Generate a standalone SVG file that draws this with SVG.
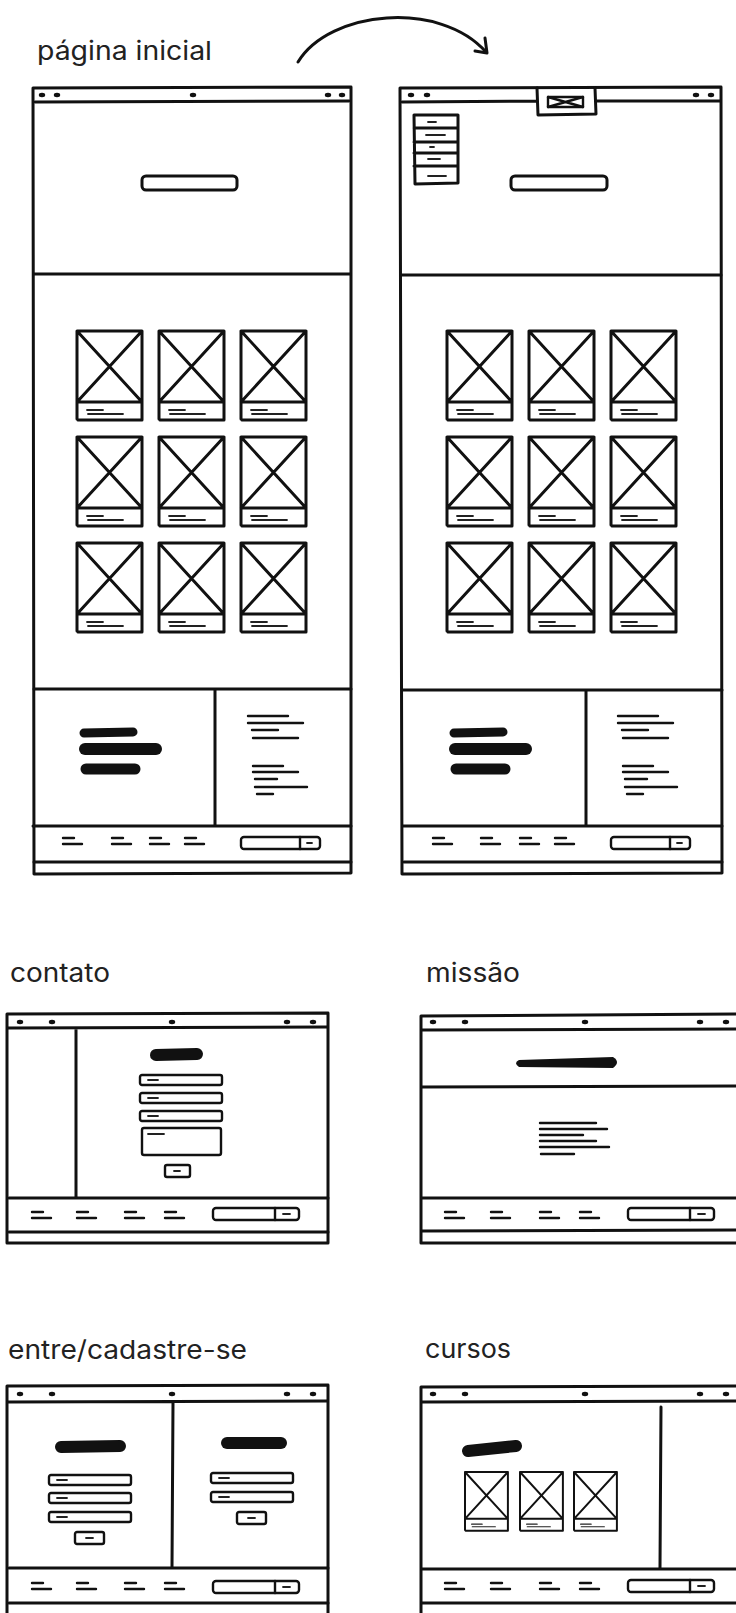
<svg xmlns="http://www.w3.org/2000/svg" xmlns:xlink="http://www.w3.org/1999/xlink" width="736" height="1613" viewBox="0 0 736 1613">
<style>
.f{fill:none;stroke:#111;stroke-width:3;stroke-linecap:round;stroke-linejoin:round}
.m{fill:none;stroke:#111;stroke-width:2.4;stroke-linecap:round;stroke-linejoin:round}
.s{fill:none;stroke:#222;stroke-width:1.8;stroke-linecap:round}
.b{fill:none;stroke:#111;stroke-linecap:round}
.dot{fill:#111}
.ttl{font-family:Inter,"Liberation Sans",sans-serif;font-size:26px;fill:#222}
</style>
<defs>
<g id="card">
<path class="f" d="M0,0 H65 V89 M0,0 V88 M0,71 H65 M0,0 L65,71 M65,0 L0,71 M1,89 H64"/>
<path class="s" d="M10,79 H26 M11,83 H46"/>
</g>
<g id="dash">
<path class="m" d="M0,0 H11 M0,6 H19"/>
</g>
<g id="search">
<rect class="m" x="0" y="0" width="79" height="12" rx="3"/>
<path class="m" d="M59,0 V12"/>
<path class="s" d="M66,6 H71"/>
</g>
<g id="searchS">
<rect class="m" x="0" y="0" width="86" height="12" rx="3"/>
<path class="m" d="M62,0 V12"/>
<path class="s" d="M70,6 H77"/>
</g>
<g id="input">
<rect class="m" x="0" y="0" width="82" height="10" rx="2"/>
<path class="s" d="M8,5 H18"/>
</g>
<g id="btn">
<rect class="m" x="0" y="0" width="29" height="12" rx="2"/>
<path class="s" d="M11,6 H18"/>
</g>
<g id="dots5">
<ellipse class="dot" cx="0" cy="0" rx="3.2" ry="2.2"/>
<ellipse class="dot" cx="32" cy="0" rx="3.2" ry="2.2"/>
<ellipse class="dot" cx="152" cy="0" rx="3.2" ry="2.2"/>
<ellipse class="dot" cx="267" cy="0" rx="3.2" ry="2.2"/>
<ellipse class="dot" cx="293" cy="0" rx="3.2" ry="2.2"/>
</g>
</defs>
<rect x="0" y="0" width="736" height="1613" fill="#fff"/>

<g id="titles">
<text class="ttl" x="37" y="60" textLength="175" lengthAdjust="spacingAndGlyphs">página inicial</text>
<text class="ttl" x="10" y="982" textLength="100" lengthAdjust="spacingAndGlyphs">contato</text>
<text class="ttl" x="426" y="982" textLength="94" lengthAdjust="spacingAndGlyphs">missão</text>
<text class="ttl" x="8" y="1359" textLength="239" lengthAdjust="spacingAndGlyphs">entre/cadastre-se</text>
<text class="ttl" x="425" y="1358" textLength="86" lengthAdjust="spacingAndGlyphs">cursos</text>
</g>

<g id="connectors">
<path class="f" d="M298,62 C330,10 440,0 486,52"/>
<path class="f" d="M475,51 L487,53 L485,38"/>
</g>

<g id="home">
<path class="f" d="M33,88 L351,87 L351,873 L34,874 Z"/>
<path class="f" d="M35,102 L349,101 M34,274 L350,274 M34,689 L351,689 M215,689 L215,826 M33,826 L351,826 M34,862 L351,862"/>
<ellipse class="dot" cx="42" cy="95" rx="3.2" ry="2.2"/>
<ellipse class="dot" cx="57" cy="95" rx="3.2" ry="2.2"/>
<ellipse class="dot" cx="193" cy="95" rx="3.2" ry="2.2"/>
<ellipse class="dot" cx="328" cy="95" rx="3.2" ry="2.2"/>
<ellipse class="dot" cx="342" cy="95" rx="3.2" ry="2.2"/>
<rect class="f" x="142" y="176" width="95" height="14" rx="4"/>
<use href="#card" x="77" y="331"/><use href="#card" x="159" y="331"/><use href="#card" x="241" y="331"/>
<use href="#card" x="77" y="437"/><use href="#card" x="159" y="437"/><use href="#card" x="241" y="437"/>
<use href="#card" x="77" y="543"/><use href="#card" x="159" y="543"/><use href="#card" x="241" y="543"/>
<path class="b" stroke-width="9" d="M84,733 L133,732"/>
<path class="b" stroke-width="12" d="M85,749 L156,749"/>
<path class="b" stroke-width="11" d="M86,769 L135,769"/>
<path class="m" d="M248,716 H288 M248,723 H303 M252,730 H278 M253,738 H298 M253,766 H283 M253,772 H298 M255,779 H277 M255,787 H307 M257,794 H273"/>
<use href="#dash" x="63" y="838"/><use href="#dash" x="112" y="838"/><use href="#dash" x="150" y="838"/><use href="#dash" x="185" y="838"/>
<use href="#search" x="241" y="837"/>
</g>

<g id="home-menu">
<path class="f" d="M400,88 L721,87 L722,873 L402,874 Z"/>
<path class="f" d="M402,102 L537,101 M596,101 L720,101 M537,88 L538,115 L596,114 L595,88"/>
<rect class="m" x="548" y="97" width="35" height="10"/>
<path class="m" d="M548,97 L583,107 M583,97 L548,107"/>
<ellipse class="dot" cx="411" cy="95" rx="3.2" ry="2.2"/>
<ellipse class="dot" cx="427" cy="95" rx="3.2" ry="2.2"/>
<ellipse class="dot" cx="696" cy="95" rx="3.2" ry="2.2"/>
<ellipse class="dot" cx="711" cy="95" rx="3.2" ry="2.2"/>
<path class="f" d="M414,115 L458,115 L458,183 L415,184 Z M414,128 H458 M414,142 H458 M414,153 H458 M414,166 H458"/>
<path class="s" d="M428,122 H436 M426,135 H445 M430,147 H434 M428,159 H440 M428,176 H446"/>
<rect class="f" x="511" y="176" width="96" height="14" rx="4"/>
<path class="f" d="M402,275 L721,275 M403,690 L722,690 M586,690 L586,826 M403,826 L722,826 M404,862 L722,862"/>
<use href="#card" x="447" y="331"/><use href="#card" x="529" y="331"/><use href="#card" x="611" y="331"/>
<use href="#card" x="447" y="437"/><use href="#card" x="529" y="437"/><use href="#card" x="611" y="437"/>
<use href="#card" x="447" y="543"/><use href="#card" x="529" y="543"/><use href="#card" x="611" y="543"/>
<path class="b" stroke-width="9" d="M454,733 L503,732"/>
<path class="b" stroke-width="12" d="M455,749 L526,749"/>
<path class="b" stroke-width="11" d="M456,769 L505,769"/>
<path class="m" d="M618,716 H658 M618,723 H673 M622,730 H648 M623,738 H668 M623,766 H653 M623,772 H668 M625,779 H647 M625,787 H677 M627,794 H643"/>
<use href="#dash" x="433" y="838"/><use href="#dash" x="481" y="838"/><use href="#dash" x="520" y="838"/><use href="#dash" x="555" y="838"/>
<use href="#search" x="611" y="837"/>
</g>

<g id="contato">
<path class="f" d="M7,1014 L328,1013 L328,1243 L7,1243 Z"/>
<path class="f" d="M8,1028 L327,1027 M76,1028 L76,1197 M9,1198 L328,1198 M9,1232 L328,1232"/>
<use href="#dots5" x="20" y="1022"/>
<path class="b" stroke-width="12" d="M156,1055 L197,1054"/>
<use href="#input" x="140" y="1075"/>
<use href="#input" x="140" y="1093"/>
<use href="#input" x="140" y="1111"/>
<rect class="m" x="142" y="1128" width="79" height="27" rx="2"/>
<path class="s" d="M148,1134 H164"/>
<rect class="m" x="165" y="1165" width="25" height="12" rx="2"/>
<path class="s" d="M174,1171 H180"/>
<use href="#dash" x="32" y="1212"/><use href="#dash" x="77" y="1212"/><use href="#dash" x="125" y="1212"/><use href="#dash" x="165" y="1212"/>
<use href="#searchS" x="213" y="1208"/>
</g>

<g id="missao">
<path class="f" d="M421,1016 L745,1014 M421,1016 L421,1243 L745,1243"/>
<path class="f" d="M422,1030 L745,1029 M422,1087 L745,1086 M422,1198 L745,1198 M422,1231 L745,1230"/>
<use href="#dots5" x="433" y="1022"/>
<path class="dot" d="M519,1060 L613,1057 Q621,1062 613,1068 L519,1067 Q513,1063 519,1060 Z"/>
<path class="m" d="M540,1123 H596 M540,1129 H607 M540,1135 H583 M540,1141 H596 M540,1147 H609 M541,1154 H574"/>
<use href="#dash" x="445" y="1212"/><use href="#dash" x="491" y="1212"/><use href="#dash" x="540" y="1212"/><use href="#dash" x="580" y="1212"/>
<use href="#searchS" x="628" y="1208"/>
</g>

<g id="entre">
<path class="f" d="M7,1386 L328,1385 L328,1613 M7,1386 L7,1613"/>
<path class="f" d="M8,1402 L327,1401 M173,1403 L172,1567 M9,1568 L328,1568 M9,1603 L328,1603"/>
<use href="#dots5" x="20" y="1394"/>
<path class="b" stroke-width="12" d="M61,1447 L120,1446"/>
<use href="#input" x="49" y="1475"/>
<use href="#input" x="49" y="1493"/>
<use href="#input" x="49" y="1512"/>
<use href="#btn" x="75" y="1532"/>
<path class="b" stroke-width="12" d="M227,1443 L281,1443"/>
<use href="#input" x="211" y="1473"/>
<use href="#input" x="211" y="1492"/>
<use href="#btn" x="237" y="1512"/>
<use href="#dash" x="32" y="1583"/><use href="#dash" x="77" y="1583"/><use href="#dash" x="125" y="1583"/><use href="#dash" x="165" y="1583"/>
<use href="#searchS" x="213" y="1581"/>
</g>

<g id="cursos">
<path class="f" d="M421,1387 L745,1386 M421,1387 L421,1613"/>
<path class="f" d="M422,1402 L745,1401 M661,1407 L660,1568 M422,1569 L745,1569 M422,1603 L745,1603"/>
<use href="#dots5" x="433" y="1394"/>
<path class="b" stroke-width="12" d="M468,1451 L516,1446"/>
<use href="#card" transform="translate(465,1472) scale(0.66)"/>
<use href="#card" transform="translate(520,1472) scale(0.66)"/>
<use href="#card" transform="translate(574,1472) scale(0.66)"/>
<use href="#dash" x="445" y="1583"/><use href="#dash" x="491" y="1583"/><use href="#dash" x="540" y="1583"/><use href="#dash" x="580" y="1583"/>
<use href="#searchS" x="628" y="1580"/>
</g>
</svg>
